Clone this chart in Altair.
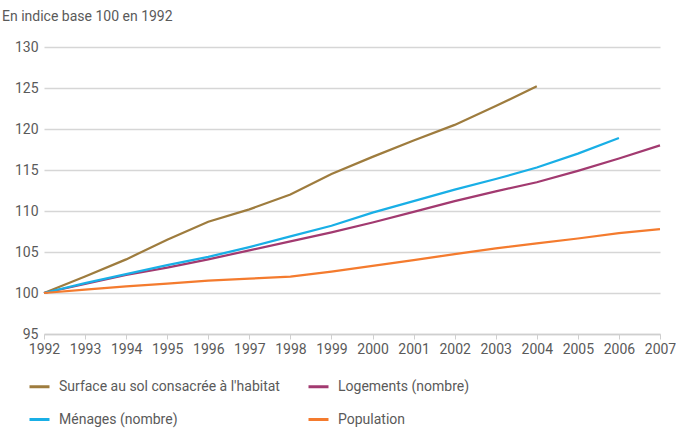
import altair as alt
import pandas as pd

years = list(range(1992, 2008))

surface = [100, 102.0, 104.1, 106.5, 108.7, 110.2, 112.0, 114.5, 116.6, 118.6, 120.5, 122.8, 125.2]
logements = [100, 101.1, 102.2, 103.1, 104.1, 105.2, 106.3, 107.4, 108.6, 109.9, 111.2, 112.4, 113.5, 114.9, 116.4, 118.0]
menages = [100, 101.2, 102.3, 103.4, 104.4, 105.6, 106.9, 108.2, 109.8, 111.2, 112.6, 113.9, 115.3, 117.0, 118.9]
population = [100, 100.4, 100.8, 101.15, 101.5, 101.75, 102.0, 102.6, 103.3, 104.0, 104.75, 105.45, 106.05, 106.65, 107.3, 107.8]

series_names = [
    "Surface au sol consacrée à l'habitat",
    "Logements (nombre)",
    "Ménages (nombre)",
    "Population",
]
series_values = [surface, logements, menages, population]
series_colors = ["#9e7c3e", "#a23a70", "#19afe6", "#f47b2e"]

rows = []
for name, vals in zip(series_names, series_values):
    for yr, v in zip(years, vals):
        rows.append({"annee": yr, "indice": v, "serie": name})
df = pd.DataFrame(rows)

FONT = "Roboto"
GREY = "#5a5a5a"

chart = (
    alt.Chart(df)
    .mark_line(strokeWidth=2.2)
    .encode(
        x=alt.X(
            "annee:Q",
            scale=alt.Scale(domain=[1992, 2007], nice=False, zero=False),
            axis=alt.Axis(
                values=years,
                format="d",
                title=None,
                grid=False,
                domainColor="#cfcfcf",
                domainWidth=1.5,
                tickColor="#cfcfcf",
                tickSize=5,
                labelFontSize=14,
                labelColor=GREY,
                labelPadding=3,
                labelFlush=False,
                labelOverlap=False,
            ),
        ),
        y=alt.Y(
            "indice:Q",
            scale=alt.Scale(domain=[95, 130], nice=False, zero=False),
            axis=alt.Axis(
                values=[95, 100, 105, 110, 115, 120, 125, 130],
                title=None,
                domain=False,
                ticks=False,
                gridColor="#d6d6d6",
                gridWidth=1.5,
                labelFontSize=14,
                labelColor=GREY,
                labelPadding=6,
            ),
        ),
        color=alt.Color(
            "serie:N",
            scale=alt.Scale(domain=series_names, range=series_colors),
            legend=alt.Legend(
                title=None,
                orient="none",
                direction="horizontal",
                legendX=-16,
                legendY=328,
                columns=2,
                columnPadding=22,
                rowPadding=14,
                labelLimit=400,
                symbolType="stroke",
                symbolSize=400,
                symbolStrokeWidth=3,
                labelFontSize=14,
                labelColor=GREY,
                labelOffset=8,
            ),
        ),
        order=alt.Order("serie:N"),
    )
    .properties(
        width=616,
        height=287,
        autosize=alt.AutoSizeParams(type="none"),
        padding={"left": 44, "top": 47, "right": 16, "bottom": 100},
        title=alt.TitleParams(
            "En indice base 100 en 1992",
            anchor="start",
            frame="group",
            fontSize=14,
            fontWeight="normal",
            color=GREY,
            font=FONT,
            dx=-42,
            offset=16,
        ),
    )
    .configure(font=FONT)
    .configure_view(stroke=None)
)

chart.save("out.html", embed_options={"renderer": "svg", "actions": False})
